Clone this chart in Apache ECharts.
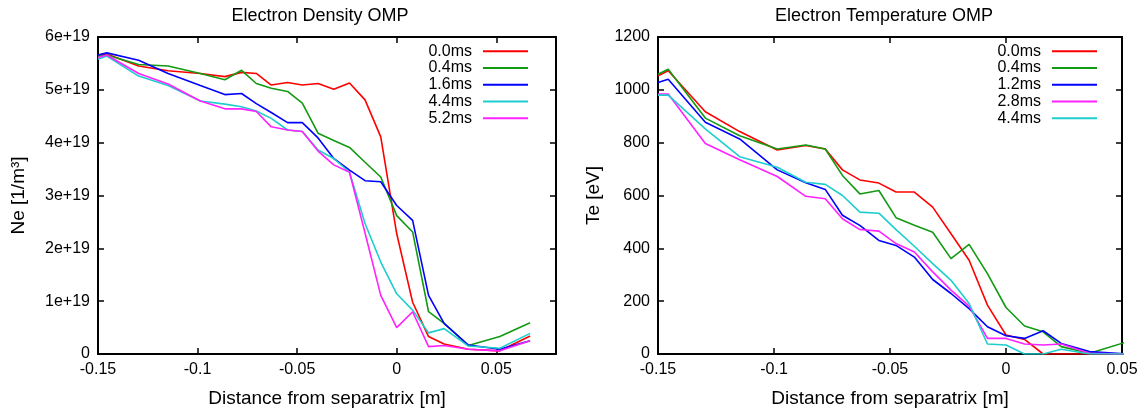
<!DOCTYPE html>
<html lang="en">
<head>
    <meta charset="utf-8">
    <title>Electron Density / Temperature OMP</title>
    <script src="https://cdn.jsdelivr.net/npm/echarts@6/dist/echarts.min.js"></script>
    <style>
        body { margin: 0; background: #fff; }
        .echarts_ne { position: absolute; left: 0; top: 0; width: 574px; height: 413px; }
        .echarts_te { position: absolute; left: 574px; top: 0; width: 574px; height: 413px; }
    </style>
</head>
<body>
    <div class="echarts_ne"></div>
    <div class="echarts_te"></div>

<script type="text/javascript">
    // distance from separatrix [m], same grid for both profiles
    let distList = [-0.1500, -0.1456, -0.1296, -0.1148, -0.0986, -0.0863, -0.0779, -0.0705, -0.0630, -0.0548,
        -0.0474, -0.0395, -0.0316, -0.0237, -0.0159, -0.0080, 0.0000, 0.0080, 0.0160, 0.0238, 0.0360, 0.0518, 0.0670];

    // electron density, units of 1e19 m^-3
    let neNames = ['0.0ms', '0.4ms', '1.6ms', '4.4ms', '5.2ms'];
    let ne00 = [5.66, 5.68, 5.45, 5.36, 5.31, 5.25, 5.33, 5.31, 5.09, 5.14, 5.09, 5.12, 5.01, 5.13, 4.81, 4.11, 2.28, 0.98, 0.33, 0.19, 0.09, 0.06, 0.34];
    let ne04 = [5.64, 5.66, 5.48, 5.45, 5.31, 5.19, 5.37, 5.12, 5.03, 4.97, 4.75, 4.18, 4.04, 3.91, 3.63, 3.35, 2.62, 2.31, 0.80, 0.58, 0.16, 0.33, 0.59];
    let ne16 = [5.66, 5.70, 5.56, 5.31, 5.08, 4.91, 4.93, 4.74, 4.57, 4.38, 4.38, 4.09, 3.70, 3.48, 3.28, 3.26, 2.81, 2.53, 1.11, 0.58, 0.17, 0.09, 0.25];
    let ne44 = [5.58, 5.64, 5.26, 5.08, 4.79, 4.73, 4.68, 4.60, 4.46, 4.24, 4.21, 3.86, 3.70, 3.44, 2.47, 1.74, 1.14, 0.83, 0.40, 0.48, 0.15, 0.11, 0.39];
    let ne52 = [5.61, 5.66, 5.31, 5.11, 4.79, 4.64, 4.64, 4.59, 4.30, 4.24, 4.21, 3.84, 3.58, 3.44, 2.29, 1.11, 0.50, 0.80, 0.14, 0.16, 0.09, 0.06, 0.25];
    let neTicks = ['0', '1e+19', '2e+19', '3e+19', '4e+19', '5e+19', '6e+19'];

    // electron temperature [eV]
    let teNames = ['0.0ms', '0.4ms', '1.2ms', '2.8ms', '4.4ms'];
    let te00 = [1053, 1072, 917, 842, 772, 789, 776, 697, 659, 647, 613, 613, 556, 455, 355, 185, 72, 55, 0, 0, 0, 0];
    let te04 = [1059, 1078, 893, 826, 776, 791, 776, 676, 606, 619, 516, 487, 461, 361, 415, 304, 176, 106, 84, 28, 3, 45];
    let te12 = [1028, 1040, 877, 814, 697, 648, 623, 525, 487, 430, 411, 367, 282, 229, 172, 103, 69, 59, 88, 40, 9, 0];
    let te28 = [984, 984, 797, 735, 672, 597, 588, 512, 471, 465, 418, 386, 311, 242, 181, 59, 59, 38, 34, 38, 3, 0];
    let te44 = [980, 980, 852, 747, 707, 650, 642, 600, 537, 533, 471, 408, 342, 279, 191, 38, 34, 0, 0, 18, 0, 0];

    let fontName = '"Liberation Sans", Arial, sans-serif';
    let red = '#ff0000', green = '#129a12', blue = '#0000ff', cyan = '#1ecece', magenta = '#ff22ff';

    function pairs(xs, ys){
        return ys.map((y, i) => [xs[i], y]);
    }

    function lineSeries(name, values, color){
        return {
            name: name,
            type: 'line',
            symbol: 'none',
            clip: true,
            data: pairs(distList, values),
            lineStyle: { color: color, width: 1.6 },
            itemStyle: { color: color }
        };
    }

    // gnuplot style box: main axes plus mirrored ticks on top / right
    function boxAxes(xMin, xMax, yMin, yMax, yStep, yFormat, yName, yGap){
        let tick = { inside: true, length: 6, lineStyle: { color: '#000', width: 1.5 } };
        let line = { show: true, onZero: false, lineStyle: { color: '#000', width: 2 } };
        let label = { color: '#000', fontFamily: fontName, fontSize: 16 };
        return {
            xAxis: [{
                type: 'value', min: xMin, max: xMax, interval: 0.05, position: 'bottom',
                axisLine: line, axisTick: tick, splitLine: { show: false },
                axisLabel: Object.assign({ margin: 8, showMaxLabel: xMax === 0.05 }, label),
                name: 'Distance from separatrix [m]', nameLocation: 'middle', nameGap: 35,
                nameTextStyle: { color: '#000', fontFamily: fontName, fontSize: 19 }
            }, {
                type: 'value', min: xMin, max: xMax, interval: 0.05, position: 'top',
                axisLine: line, axisTick: tick, splitLine: { show: false }, axisLabel: { show: false }
            }],
            yAxis: [{
                type: 'value', min: yMin, max: yMax, interval: yStep, position: 'left',
                axisLine: line, axisTick: tick, splitLine: { show: false },
                axisLabel: Object.assign({ margin: 8, formatter: yFormat }, label),
                name: yName, nameLocation: 'middle', nameGap: yGap,
                nameTextStyle: { color: '#000', fontFamily: fontName, fontSize: 19 }
            }, {
                type: 'value', min: yMin, max: yMax, interval: yStep, position: 'right',
                axisLine: line, axisTick: tick, splitLine: { show: false }, axisLabel: { show: false }
            }]
        };
    }

    function legendOf(names, right){
        return {
            orient: 'vertical', align: 'right', right: right, top: 38,
            itemWidth: 45, itemHeight: 2, itemGap: 0, icon: 'rect', selectedMode: false,
            textStyle: { color: '#000', fontFamily: fontName, fontSize: 16, lineHeight: 16.7, padding: [0, 6, 0, 0] },
            data: names
        };
    }

    function titleOf(text, x){
        return [{
            type: 'text', x: x, y: 16,
            style: { text: text, fill: '#000', font: '18px ' + fontName, align: 'center', verticalAlign: 'middle' }
        }];
    }

    // density chart
    let neChart = echarts.init(document.getElementsByClassName('echarts_ne')[0]);
    let neAxes = boxAxes(-0.15, 0.08, 0, 6, 1, (v) => neTicks[Math.round(v)], 'Ne [1/m³]', 70);
    neChart.setOption({
        animation: false,
        grid: { left: 98, right: 18, top: 37, bottom: 58 },
        graphic: titleOf('Electron Density OMP', 320),
        legend: legendOf(neNames, 41),
        xAxis: neAxes.xAxis,
        yAxis: neAxes.yAxis,
        series: [
            lineSeries(neNames[0], ne00, red),
            lineSeries(neNames[1], ne04, green),
            lineSeries(neNames[2], ne16, blue),
            lineSeries(neNames[3], ne44, cyan),
            lineSeries(neNames[4], ne52, magenta)
        ]
    });

    // temperature chart
    let teChart = echarts.init(document.getElementsByClassName('echarts_te')[0]);
    let teAxes = boxAxes(-0.15, 0.05, 0, 1200, 200, (v) => String(v), 'Te [eV]', 51);
    teChart.setOption({
        animation: false,
        grid: { left: 84, right: 26, top: 37, bottom: 58 },
        graphic: titleOf('Electron Temperature OMP', 310),
        legend: legendOf(teNames, 46),
        xAxis: teAxes.xAxis,
        yAxis: teAxes.yAxis,
        series: [
            lineSeries(teNames[0], te00, red),
            lineSeries(teNames[1], te04, green),
            lineSeries(teNames[2], te12, blue),
            lineSeries(teNames[3], te28, magenta),
            lineSeries(teNames[4], te44, cyan)
        ]
    });
</script>
</body>
</html>
